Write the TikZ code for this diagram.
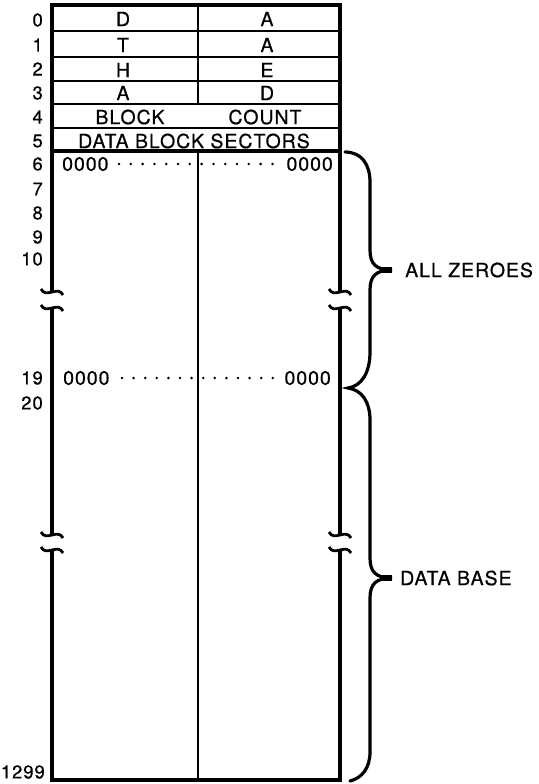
\documentclass[tikz,border=0pt]{standalone}
\usepackage{fontspec}
\setmainfont{TeX Gyre Heros}[LetterSpace=5,FakeBold=0.6]
\begin{document}
\begin{tikzpicture}[x=1pt,y=-1pt,
  txt/.style={inner sep=0pt,font=\fontsize{19.5}{21}\selectfont},
  lbl/.style={inner sep=0pt,anchor=east,font=\fontsize{18.5}{20}\selectfont},
  outer/.style={line width=3.2pt},
  inner/.style={line width=2pt},
  brace/.style={line width=3.2pt,line cap=round},
  brk/.style={line width=2.8pt}]
\useasboundingbox (0,0) rectangle (538,784);
% corner and break coordinates
\coordinate (tl) at (52,5); \coordinate (tr) at (340,5);
\coordinate (bl) at (52,780); \coordinate (br) at (340,780);
\coordinate (lb1) at (52,292); \coordinate (lb2) at (52,308);
\coordinate (lb3) at (52,535); \coordinate (lb4) at (52,550);
\coordinate (rb1) at (340,292); \coordinate (rb2) at (340,308);
\coordinate (rb3) at (340,535); \coordinate (rb4) at (340,550);
% outer frame
\draw[outer] (lb1) -- (tl) -- (tr) -- (rb1);
\draw[outer] (lb2) -- (lb3);
\draw[outer] (rb2) -- (rb3);
\draw[outer] (lb4) -- (bl) -- (br) -- (rb4);
% break marks
\foreach \p in {lb1,lb2,lb3,lb4,rb1,rb2,rb3,rb4}{
  \draw[brk] ([xshift=-11pt,yshift=3pt]\p) .. controls ([xshift=-6pt,yshift=-7pt]\p) and ([xshift=6pt,yshift=7pt]\p) .. ([xshift=11pt,yshift=-3pt]\p);
}
% row lines
\foreach \y in {31,57,81,104,128}{\draw[inner] (52,\y) -- (340,\y);}
\draw[outer] (52,151) -- (340,151);
% middle lines
\draw[inner] (198,5) -- (198,104);
\draw[inner] (198,151) -- (198,780);
% cell texts
\node[txt] (c0l) at (123,19) {D};   \node[txt] (c0r) at (267,19) {A};
\node[txt] (c1l) at (123,45) {T};   \node[txt] (c1r) at (267,45) {A};
\node[txt] (c2l) at (123,70) {H};   \node[txt] (c2r) at (267,70) {E};
\node[txt] (c3l) at (123,93) {A};   \node[txt] (c3r) at (267,93) {D};
\node[txt] (c4l) at (130,117) {BLOCK}; \node[txt] (c4r) at (265,117) {COUNT};
\node[txt] (c5) at (194,141) {DATA BLOCK SECTORS};
% zero rows
\node[txt,anchor=west] (z6l) at (62,164) {0000};
\node[txt,anchor=east] (z6r) at (333,164) {0000};
\foreach \i in {0,...,13}{\fill (119+\i*11.8,164) circle (1.4pt);}
\node[txt,anchor=west] (z19l) at (63,378) {0000};
\node[txt,anchor=east] (z19r) at (331,378) {0000};
\foreach \i in {0,...,13}{\fill (122+\i*11.6,378) circle (1.4pt);}
% row labels
\node[lbl] (r0) at (43,20) {0};
\node[lbl] (r1) at (43,45) {1};
\node[lbl] (r2) at (43,69) {2};
\node[lbl] (r3) at (43,93) {3};
\node[lbl] (r4) at (43,117) {4};
\node[lbl] (r5) at (43,141) {5};
\node[lbl] (r6) at (43,164) {6};
\node[lbl] (r7) at (43,189) {7};
\node[lbl] (r8) at (43,213) {8};
\node[lbl] (r9) at (43,237) {9};
\node[lbl] (r10) at (43,259) {10};
\node[lbl] (r19) at (43,378) {19};
\node[lbl] (r20) at (43,403) {20};
\node[lbl] (r1299) at (45,772) {1299};
% braces
\coordinate (b1top) at (345,152);
\coordinate (bmid) at (348,388);
\coordinate (b2bot) at (350,781);
\coordinate (tip1) at (392,270);
\coordinate (tip2) at (392,578);
\draw[brace,line join=miter] (b1top) .. controls (362,152) and (370,165) .. (370,182)
  -- (370,250) .. controls (370,264) and (376,270) .. (tip1)
  .. controls (376,270) and (370,276) .. (370,290)
  -- (370,352) .. controls (370,372) and (362,386) .. (bmid)
  .. controls (362,390) and (370,402) .. (370,420)
  -- (370,558) .. controls (370,572) and (376,578) .. (tip2)
  .. controls (376,578) and (370,584) .. (370,598)
  -- (370,752) .. controls (370,768) and (362,778) .. (b2bot);
\fill (tip1) ++(-10,-2.6) rectangle ++(10,5.2);
\fill (tip2) ++(-10,-2.6) rectangle ++(10,5.2);
\node[txt,anchor=west] (allz) at (405,270) {ALL ZEROES};
\node[txt,anchor=west] (dbase) at (400,578) {DATA BASE};
\end{tikzpicture}
\end{document}
